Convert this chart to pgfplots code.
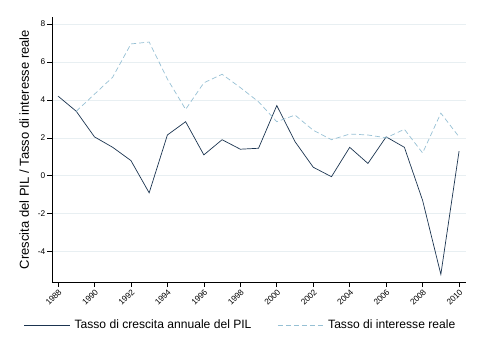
\documentclass[border=0pt]{standalone}
\usepackage{pgfplots}
\pgfplotsset{compat=1.18}
\usepackage{fontspec}
\setmainfont{Liberation Sans}
\definecolor{gdp}{RGB}{27,52,80}
\definecolor{rate}{RGB}{150,192,212}
\definecolor{gridc}{RGB}{232,239,242}
\begin{document}
\begin{tikzpicture}
\begin{axis}[
  name=ax,
  scale only axis,
  width=414bp, height=265bp,
  xmin=1987.67, xmax=2010.38,
  ymin=-5.6, ymax=8.37,
  axis x line*=bottom, axis y line*=left,
  axis line style={black, line width=0.6pt},
  xtick={1988,1990,...,2010},
  ytick={-4,-2,0,2,4,6,8},
  xticklabel style={rotate=45, anchor=north east, font=\fontsize{8.3bp}{9bp}\selectfont, inner sep=1pt},
  yticklabel style={font=\fontsize{8.3bp}{9bp}\selectfont, inner sep=1.5pt},
  x tick label style={/pgf/number format/1000 sep={}},
  /pgf/number format/assume math mode=true,
  tick style={black, line width=0.6pt},
  tick align=outside, major tick length=5bp,
  ymajorgrids, grid style={draw=gridc, line width=0.6pt},
  ylabel={Crescita del PIL / Tasso di interesse reale},
  ylabel shift=4bp,
  ylabel style={font=\fontsize{13bp}{14bp}\selectfont},
  legend style={at={(0.458,-0.162)}, anchor=center, draw=none, fill=none,
    legend columns=2, font=\fontsize{12.1bp}{13bp}\selectfont,
    /tikz/every even column/.append style={column sep=22bp},
    /tikz/every node/.append style={inner xsep=4bp}},
  legend image code/.code={\draw[#1] (0bp,0bp) -- (46bp,0bp);},
]
\addplot[gdp, line width=0.7pt] coordinates {
(1988,4.2) (1989,3.4) (1990,2.05) (1991,1.5) (1992,0.8) (1993,-0.9)
(1994,2.15) (1995,2.85) (1996,1.1) (1997,1.9) (1998,1.4) (1999,1.45)
(2000,3.7) (2001,1.8) (2002,0.45) (2003,-0.05) (2004,1.5) (2005,0.65)
(2006,2.05) (2007,1.5) (2008,-1.3) (2009,-5.2) (2010,1.3)};
\addlegendentry{Tasso di crescita annuale del PIL}
\addplot[rate, line width=0.7pt, dash pattern=on 5bp off 3bp] coordinates {
(1989,3.4) (1990,4.3) (1991,5.2) (1992,6.95) (1993,7.05) (1994,5.1)
(1995,3.5) (1996,4.9) (1997,5.35) (1998,4.65) (1999,3.9) (2000,2.85)
(2001,3.2) (2002,2.4) (2003,1.9) (2004,2.2) (2005,2.15) (2006,2.0)
(2007,2.45) (2008,1.2) (2009,3.3) (2010,2.05)};
\addlegendentry{Tasso di interesse reale}
\end{axis}
\path ([xshift=-52bp,yshift=-72bp]ax.south west) rectangle ([xshift=18bp,yshift=17bp]ax.north east);
\end{tikzpicture}
\end{document}
